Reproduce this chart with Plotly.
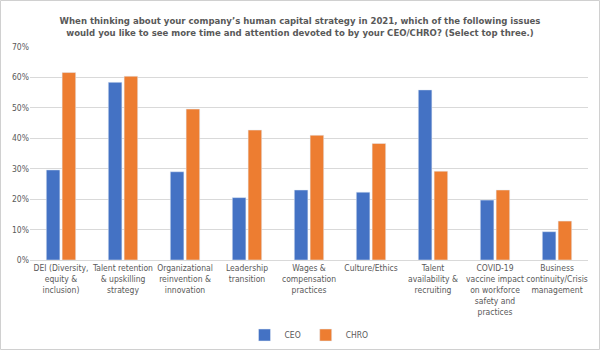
import plotly.graph_objects as go

categories = [
    "DEI (Diversity,<br>equity &<br>inclusion)",
    "Talent retention<br>& upskilling<br>strategy",
    "Organizational<br>reinvention &<br>innovation",
    "Leadership<br>transition",
    "Wages &<br>compensation<br>practices",
    "Culture/Ethics",
    "Talent<br>availability &<br>recruiting",
    "COVID-19<br>vaccine impact<br>on workforce<br>safety and<br>practices",
    "Business<br>continuity/Crisis<br>management",
]
ceo = [29.6, 58.4, 29.0, 20.5, 23.0, 22.3, 55.9, 19.7, 9.3]
chro = [61.6, 60.4, 49.6, 42.7, 41.0, 38.3, 29.2, 23.0, 12.8]
y_ticks = [0, 10, 20, 30, 40, 50, 60, 70]
y_labels = [f"{v}%" for v in y_ticks]

title = ("<b>When thinking about your company’s human capital strategy in 2021, which of the following issues<br>"
         "would you like to see more time and attention devoted to by your CEO/CHRO? (Select top three.)</b>")

FONT = "DejaVu Sans Condensed, Roboto, sans-serif"
GRAY = "#595959"

fig = go.Figure()
fig.add_trace(go.Bar(name="CEO", x=categories, y=ceo, marker_color="#4472C4"))
fig.add_trace(go.Bar(name="CHRO", x=categories, y=chro, marker_color="#ED7D31"))

L, R, T, B = 30, 12, 47, 90
W, H = 600, 350
pw, ph = W - L - R, H - T - B

fig.update_layout(
    width=W, height=H,
    margin=dict(l=L, r=R, t=T, b=B, autoexpand=False),
    paper_bgcolor="white", plot_bgcolor="white",
    font=dict(family=FONT, size=8.5, color=GRAY),
    title=dict(text=title, x=0.5, xanchor="center", y=1 - 24 / H, yanchor="middle",
               font=dict(family=FONT, size=9.5, color=GRAY)),
    barmode="group", bargap=0.49, bargroupgap=0.14,
    showlegend=True,
    legend=dict(orientation="h", x=0.5, xanchor="center", y=(0 - 75) / ph, yanchor="middle",
                font=dict(size=8.5, color=GRAY), itemwidth=30, traceorder="normal",
                bgcolor="rgba(0,0,0,0)"),
    xaxis=dict(showline=True, linecolor="#D9D9D9", tickfont=dict(size=8.5, color=GRAY),
               ticks="", tickangle=0, automargin=False),
    yaxis=dict(range=[0, 70], tickvals=y_ticks, ticktext=y_labels, showgrid=True,
               gridcolor="#D9D9D9", zeroline=False, ticks="", automargin=False,
               tickfont=dict(size=8.5, color=GRAY)),
    shapes=[dict(type="rect", xref="paper", yref="paper",
                 x0=-(L - 0.5) / pw, x1=1 + (R - 0.5) / pw,
                 y0=-(B - 0.5) / ph, y1=1 + (T - 0.5) / ph,
                 line=dict(color="#D0D0D0", width=1))],
)

fig.write_html("out.html")
